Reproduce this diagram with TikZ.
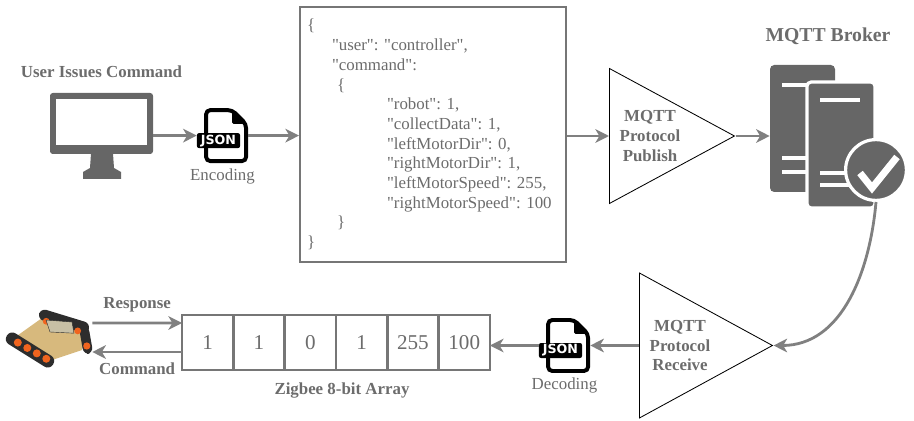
\documentclass[tikz,border=0pt]{standalone}
\usepackage{fontspec}
\setmainfont{Liberation Serif}
\newfontfamily\iconfont{DejaVu Sans}
\usepackage{tikz}
\usetikzlibrary{arrows.meta,positioning,calc,shapes.geometric}
\definecolor{iconGray}{RGB}{102,102,102}
\definecolor{flowGray}{RGB}{128,128,128}
\definecolor{textGray}{RGB}{108,108,108}
\definecolor{boxGray}{RGB}{118,118,118}
\definecolor{trackDark}{RGB}{45,45,45}
\definecolor{wheelOrange}{RGB}{240,100,30}
\definecolor{deckTan}{RGB}{215,185,125}
\definecolor{motorKhaki}{RGB}{200,192,165}
% straight quotes for the json keys
\newcommand{\qt}[1]{\textquotedbl#1\textquotedbl}

\begin{document}
\begin{tikzpicture}[
    flow/.style={-{Stealth[length=3.4mm,width=3.4mm,inset=1mm]}, line width=2pt, draw=flowGray},
    head/.style={font=\fontsize{12}{14}\selectfont\bfseries, text=textGray, align=center},
    note/.style={font=\fontsize{12}{14}\selectfont, text=textGray},
    icon/.style={minimum width=1.275cm, minimum height=1.375cm, inner sep=0},
    relay/.style={isosceles triangle, isosceles triangle stretches, draw=black, line width=0.6pt, inner sep=0, anchor=west},
    rack/.style={fill=iconGray, rounded corners=3pt, inner sep=0},
    slot/.style={white, line width=0.1cm},
    cell/.style={draw=boxGray, line width=2pt, outer sep=0pt, fill=white, minimum width=1.283cm, minimum height=1.375cm, font=\fontsize{15}{15}\selectfont, text=textGray},
    track/.style={fill=trackDark, rounded corners=1.5mm},
    jsonfile/.pic={
        \draw[line width=2.8pt, rounded corners=3pt, fill=white] (-0.41,-0.6375) -- (-0.41,0.6375) -- (0.24,0.6375) -- (0.59,0.29) -- (0.59,-0.6375) -- cycle;
        \fill[rounded corners=1pt] (0.24,0.6375) -- (0.24,0.29) -- (0.59,0.29) -- cycle;
        \fill[rounded corners=1.5pt] (-0.64,-0.3125) rectangle (0.44,0.0625);
        \node[text=white, inner sep=0, font=\iconfont\bfseries\fontsize{9}{9}\selectfont] (-tag) at (-0.1,-0.125) {JSON};
    }
]
\useasboundingbox (0,0) rectangle (22.85,10.5);

% user terminal
\node[fill=iconGray, rounded corners=2pt, minimum width=2.575cm, minimum height=1.525cm, inner sep=0] (monitor) at (2.5375,7.4125) {};
\fill[white] (1.4,6.875) rectangle (3.675,8.025);
\fill[iconGray] (2.275,6.66) -- (2.825,6.66) -- (2.85,6.3) -- (3.025,6.2) -- (3.025,6.025) -- (2.075,6.025) -- (2.075,6.2) -- (2.25,6.3) -- cycle;
\node[head, above=0.25cm of monitor] (user) {User Issues Command};

\node[icon] (enc) at (5.5625,7.11) {};
\pic (encfile) at (enc) {jsonfile};
\node[note, below=0cm of enc] (enclbl) {Encoding};
\draw[flow] (monitor.east |- enc.west) -- (enc.west);

% json payload
\node[draw=boxGray, line width=1.4pt, minimum width=6.65cm, minimum height=6.375cm, text width=6.3cm, inner xsep=0.175cm, align=left, font=\fontsize{12}{14}\selectfont\frenchspacing, text=textGray] (payload) at (10.825,7.1375) {%
\{\\
\hspace*{0.625cm}\qt{user}: \qt{controller},\\
\hspace*{0.625cm}\qt{command}:\\
\hspace*{0.75cm}\{\\
\hspace*{2cm}\qt{robot}: 1,\\
\hspace*{2cm}\qt{collectData}: 1,\\
\hspace*{2cm}\qt{leftMotorDir}: 0,\\
\hspace*{2cm}\qt{rightMotorDir}: 1,\\
\hspace*{2cm}\qt{leftMotorSpeed}: 255,\\
\hspace*{2cm}\qt{rightMotorSpeed}: 100\\
\hspace*{0.75cm}\}\\
\}};
\draw[flow] (enc.east) -- (enc.east -| payload.west);

\node[relay, minimum width=3.375cm, minimum height=3.125cm] (pub) at (15.225,7.1) {};
\node[head] (pubtxt) at ([xshift=1.025cm]pub.west) {MQTT\\Protocol\\Publish};
\draw[flow] (payload.east |- pub.west) -- (pub.west);

% broker
\node[head, font=\fontsize{14}{16}\selectfont\bfseries] (broker) at (20.7,9.6) {MQTT Broker};
\node[rack, minimum width=1.625cm, minimum height=3.175cm] (rack1) at (20.0625,7.2875) {};
\draw[slot] (19.55,8.375) -- (20.2,8.375);
\draw[slot] (19.55,6.55) -- (20.2,6.55);
\draw[slot] (19.55,6.2) -- (20.2,6.2);
\node[rack, draw=white, line width=0.08cm, minimum width=1.7cm, minimum height=3.15cm] (rack2) at (21.025,6.875) {};
\draw[slot] (20.5,8.0) -- (21.5,8.0);
\draw[slot] (20.5,6.175) -- (21.3,6.175);
\draw[slot] (20.5,5.875) -- (21.3,5.875);
\node[circle, fill=iconGray, draw=white, line width=0.08cm, minimum size=1.52cm, inner sep=0] (ok) at (21.9,6.25) {};
\draw[white, line width=5pt] ([shift={(-0.4,-0.075)}]ok.center) -- ++(0.3,-0.375) -- ++(0.625,0.775);
\draw[flow] (pub.apex) -- (pub.apex -| rack1.west);

% receive side
\node[relay, minimum width=3.625cm, minimum height=3.325cm] (rcv) at (15.975,1.8625) {};
\node[head] (rcvtxt) at ([xshift=1.025cm]rcv.west) {MQTT\\Protocol\\Receive};
\draw[flow] (ok.south) to[out=-95,in=0] (rcv.apex);

\node[icon] (dec) at (14.1125,1.8625) {};
\pic (decfile) at (dec) {jsonfile};
\node[note, below=0cm of dec] (declbl) {Decoding};
\draw[flow] (rcv.west) -- (rcv.west -| dec.east);

% zigbee frame
\node[cell] (c1) at (5.1917,1.9375) {1};
\node[cell, right=0pt of c1] (c2) {1};
\node[cell, right=0pt of c2] (c3) {0};
\node[cell, right=0pt of c3] (c4) {1};
\node[cell, right=0pt of c4] (c5) {255};
\node[cell, right=0pt of c5] (c6) {100};
\draw[flow] (dec.west) -- (dec.west -| c6.east);
\node[head, below=0.2cm of c3.south east, xshift=0.15cm] (zigbee) {Zigbee 8-bit Array};

% tracked rover
\node[minimum width=2.2cm, minimum height=1.5cm, inner sep=0] (rover) at (1.2,2.05) {};
\fill[deckTan] (1.05,2.55) -- (2.15,2.25) -- (2.05,1.75) -- (1.3,1.5) -- (0.35,2.05) -- cycle;
\fill[track, rotate around={-17:(1.6,2.47)}] (0.95,2.33) rectangle (2.25,2.61);
\fill[track, rotate around={-32:(0.75,1.75)}] (0.07,1.59) rectangle (1.43,1.91);
\fill[track, rotate around={-80:(2.15,2.0)}] (1.8,1.88) rectangle (2.5,2.12);
\foreach \t in {0.1,0.35,0.6,0.85} {
  \fill[wheelOrange] ($(1.05,2.5)!\t!(2.1,2.18)$) circle (0.085);
  \fill[wheelOrange] ($(0.35,1.99)!\t!(1.3,1.45)$) circle (0.1);
}
\fill[wheelOrange] (2.17,1.85) circle (0.09);
\fill[motorKhaki, draw=trackDark, line width=0.3pt] (1.15,2.5) -- (1.8,2.45) -- (1.85,2.17) -- (1.25,2.2) -- cycle;
\draw[flow] ([yshift=0.375cm]rover.east) -- node[head, above=0.12cm] (resp) {Response} ([yshift=0.4875cm]c1.west);
\draw[flow] ([yshift=-0.2375cm]c1.west) -- node[head, below=0.12cm] (cmd) {Command} ([yshift=-0.35cm]rover.east);
\end{tikzpicture}
\end{document}
